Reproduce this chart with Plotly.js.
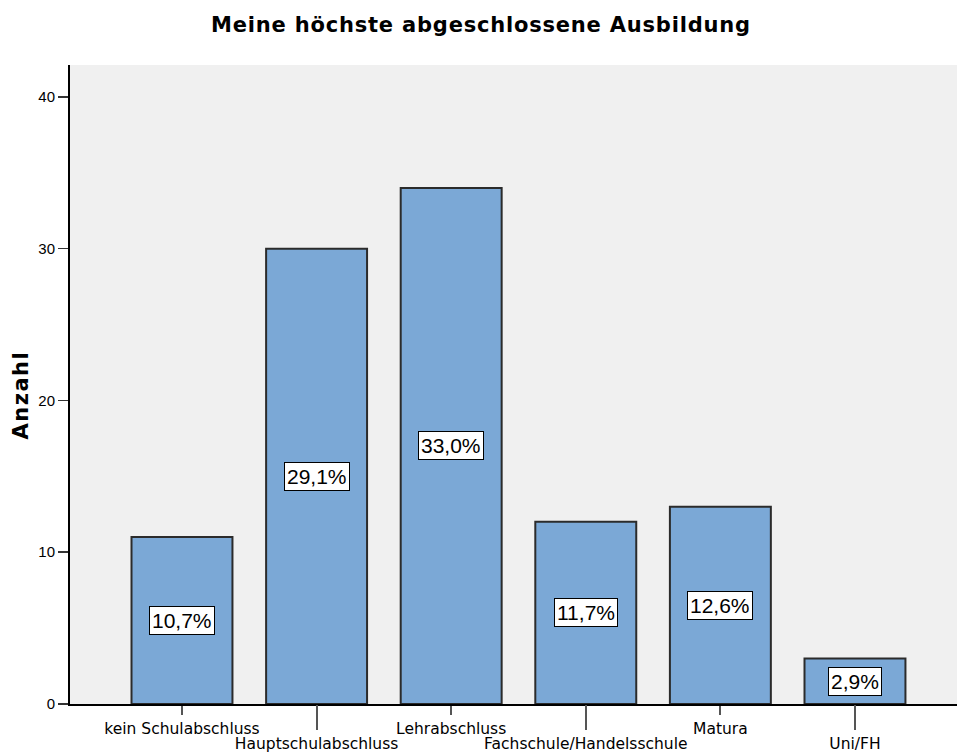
<!DOCTYPE html>
<html>
<head>
<meta charset="utf-8">
<script src="https://cdn.plot.ly/plotly-3.0.1.min.js"></script>
<style>
  html, body { margin: 0; padding: 0; background: #ffffff; }
  #chart { width: 957px; height: 756px; }
  #chart .gtitle { letter-spacing: 0.8px; }
</style>
</head>
<body>
<div id="chart"></div>
<script>
// ---- data ----
const chartTitle = "Meine höchste abgeschlossene Ausbildung";
const yTitle = "Anzahl";
const categories = ["kein Schulabschluss", "Hauptschulabschluss", "Lehrabschluss",
                    "Fachschule/Handelsschule", "Matura", "Uni/FH"];
const counts = [11, 30, 34, 12, 13, 3];
const percentLabels = ["10,7%", "29,1%", "33,0%", "11,7%", "12,6%", "2,9%"];
const yTicks = [0, 10, 20, 30, 40];

// ---- derived ----
const xIdx = categories.map((_, i) => i);
const evenIdx = xIdx.filter(i => i % 2 === 0);
const oddIdx = xIdx.filter(i => i % 2 === 1);
const xRange = [-0.832, 5.758];

const barStyle = { color: '#7BA8D6', line: { color: '#2b2b2b', width: 2 } };

// bars on the first-row label axis (even categories)
const barsA = {
  type: 'bar', xaxis: 'x', yaxis: 'y',
  x: evenIdx, y: evenIdx.map(i => counts[i]),
  width: 0.75, marker: barStyle, hoverinfo: 'skip'
};
// bars on the second-row label axis (odd categories)
const barsB = {
  type: 'bar', xaxis: 'x2', yaxis: 'y',
  x: oddIdx, y: oddIdx.map(i => counts[i]),
  width: 0.75, marker: barStyle, hoverinfo: 'skip'
};

const annotations = xIdx.map(i => ({
  x: i, y: counts[i] / 2, xref: 'x', yref: 'y',
  text: percentLabels[i], showarrow: false,
  font: { family: 'Liberation Sans, Arial, sans-serif', size: 21, color: '#000000' },
  bgcolor: '#ffffff', bordercolor: '#000000', borderwidth: 1, borderpad: 2
}));

// y-axis title
annotations.push({
  text: yTitle, xref: 'paper', yref: 'paper',
  x: (21 - 70) / 887, y: (704 - 395) / 639,
  xanchor: 'center', yanchor: 'middle', textangle: -90, showarrow: false,
  font: { family: 'DejaVu Sans, sans-serif', size: 21, weight: 'bold', color: '#000000' }
});

const catFont = { family: 'DejaVu Sans, sans-serif', size: 15.5, color: '#000000' };

const layout = {
  width: 957, height: 756,
  margin: { l: 70, r: 0, t: 65, b: 52 },
  paper_bgcolor: '#ffffff',
  plot_bgcolor: '#F0F0F0',
  showlegend: false,
  font: { family: 'Liberation Sans, Arial, sans-serif', color: '#000000' },
  title: {
    text: chartTitle,
    font: { family: 'DejaVu Sans, sans-serif', size: 21, weight: 'bold', color: '#000000' },
    x: 481 / 957, xref: 'container', xanchor: 'center',
    y: 1 - 25 / 756, yref: 'container', yanchor: 'middle'
  },
  xaxis: {
    range: xRange, tickmode: 'array',
    tickvals: evenIdx, ticktext: evenIdx.map(i => categories[i]),
    ticks: 'outside', ticklen: 9, tickwidth: 2, tickcolor: '#555555',
    showline: true, linecolor: '#000000', linewidth: 2,
    showgrid: false, zeroline: false, tickfont: catFont, fixedrange: true
  },
  xaxis2: {
    overlaying: 'x', anchor: 'y', side: 'bottom',
    range: xRange, tickmode: 'array',
    tickvals: oddIdx, ticktext: oddIdx.map(i => categories[i]),
    ticks: 'outside', ticklen: 25, tickwidth: 2, tickcolor: '#555555',
    showline: false, showgrid: false, zeroline: false, tickfont: catFont, fixedrange: true
  },
  xaxis3: {
    overlaying: 'x', anchor: 'y', side: 'top',
    range: xRange, showline: true, linecolor: '#808080', linewidth: 2,
    showticklabels: false, ticks: '', showgrid: false, zeroline: false, fixedrange: true
  },
  yaxis: {
    range: [0, 42.1], tickmode: 'array', tickvals: yTicks,
    ticks: 'outside', ticklen: 10, tickwidth: 1.5, tickcolor: '#333333',
    showline: true, linecolor: '#000000', linewidth: 2,
    showgrid: false, zeroline: false,
    tickfont: { family: 'Liberation Sans, Arial, sans-serif', size: 15, color: '#000000' },
    fixedrange: true
  },
  annotations: annotations,
  bargap: 0.25
};

Plotly.newPlot('chart', [barsA, barsB], layout, { staticPlot: true, displayModeBar: false })
  .then(gd => {
    // letter spacing for the rotated axis title (last annotation)
    const anns = gd.querySelectorAll('.annotation');
    const last = anns[anns.length - 1];
    if (last) {
      const t = last.querySelector('text');
      if (t) t.style.letterSpacing = '1.5px';
    }
  });
</script>
</body>
</html>
